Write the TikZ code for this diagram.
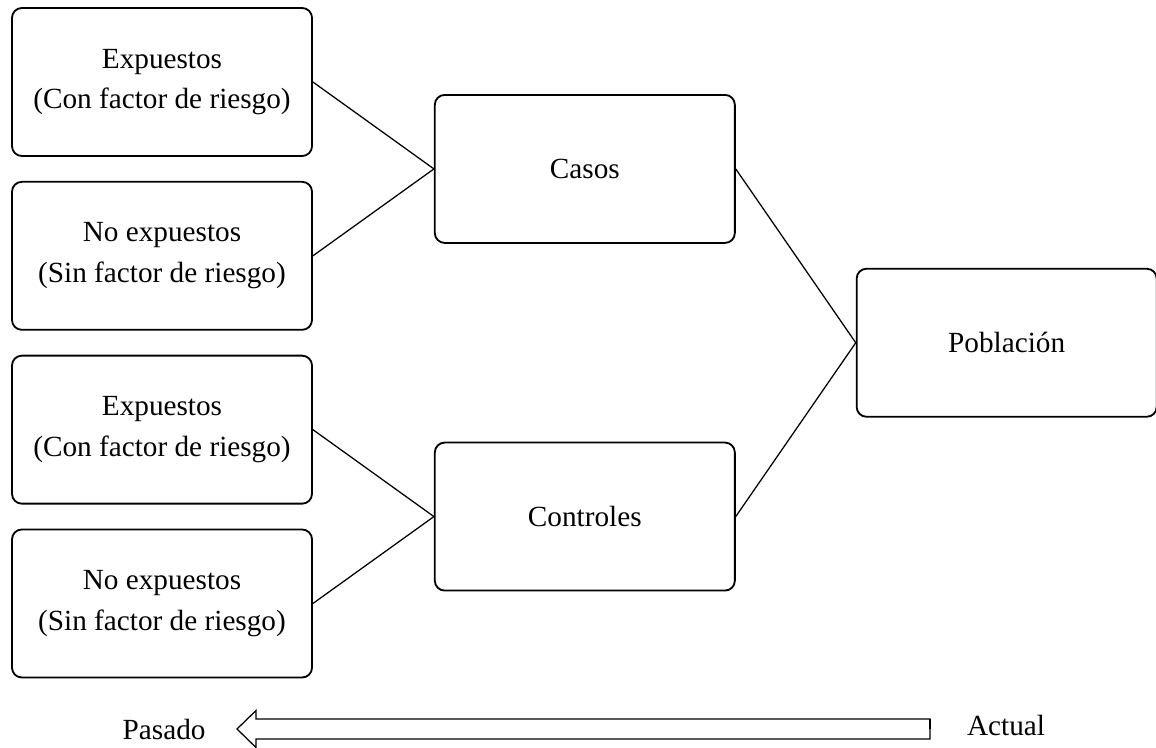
\documentclass[tikz,border=0pt]{standalone}
\usepackage{fontspec}
\setmainfont{Liberation Serif}
\usetikzlibrary{positioning,calc}

\begin{document}
\begin{tikzpicture}[
  node distance=0.6cm and 3cm,
  caja/.style={draw, rounded corners=7pt, line width=1.3pt, align=center,
               font=\fontsize{20.8}{29}\selectfont,
               minimum width=7.5cm, minimum height=3.7cm},
  etiq/.style={font=\fontsize{20.8}{29}\selectfont, inner sep=0pt},
  linea/.style={line width=0.9pt}]

  \useasboundingbox (0,0) rectangle (28.9,-18.675);

  % columna izquierda
  \node[caja] (e1) at (4.05,-2.05) {Expuestos\\(Con factor de riesgo)};
  \node[caja, below=of e1] (ne1) {No expuestos\\(Sin factor de riesgo)};
  \node[caja, below=of ne1] (e2) {Expuestos\\(Con factor de riesgo)};
  \node[caja, below=of e2] (ne2) {No expuestos\\(Sin factor de riesgo)};

  % casos y controles
  \coordinate (m1) at ($(e1.east)!0.5!(ne1.east)$);
  \coordinate (m2) at ($(e2.east)!0.5!(ne2.east)$);
  \node[caja, right=3.025cm of m1] (casos) {Casos};
  \node[caja, right=3.025cm of m2] (ctrl) {Controles};

  \coordinate (m3) at ($(casos.east)!0.5!(ctrl.east)$);
  \node[caja, right=of m3] (pob) {Población};

  \draw[linea] (e1.east) -- (casos.west);
  \draw[linea] (ne1.east) -- (casos.west);
  \draw[linea] (e2.east) -- (ctrl.west);
  \draw[linea] (ne2.east) -- (ctrl.west);
  \draw[linea] (casos.east) -- (pob.west);
  \draw[linea] (ctrl.east) -- (pob.west);

  % eje temporal (flecha hueca)
  \coordinate (punta) at (5.925,-18.225);
  \coordinate (cola) at (23.25,-18.225);
  \draw[linea, line join=miter] (punta) -- ++(0.475,0.4625) -- ++(0,-0.2125)
    -| (cola) |- ++(-16.85,-0.25) -- ++(0,-0.2125) -- cycle;
  \draw[linea] (cola) -- ++(0,0.25);
  \node[etiq, left=0.78cm of punta] (pasado) {Pasado};
  \node[etiq, right=0.92cm of cola, yshift=0.09cm] (actual) {Actual};
\end{tikzpicture}
\end{document}
